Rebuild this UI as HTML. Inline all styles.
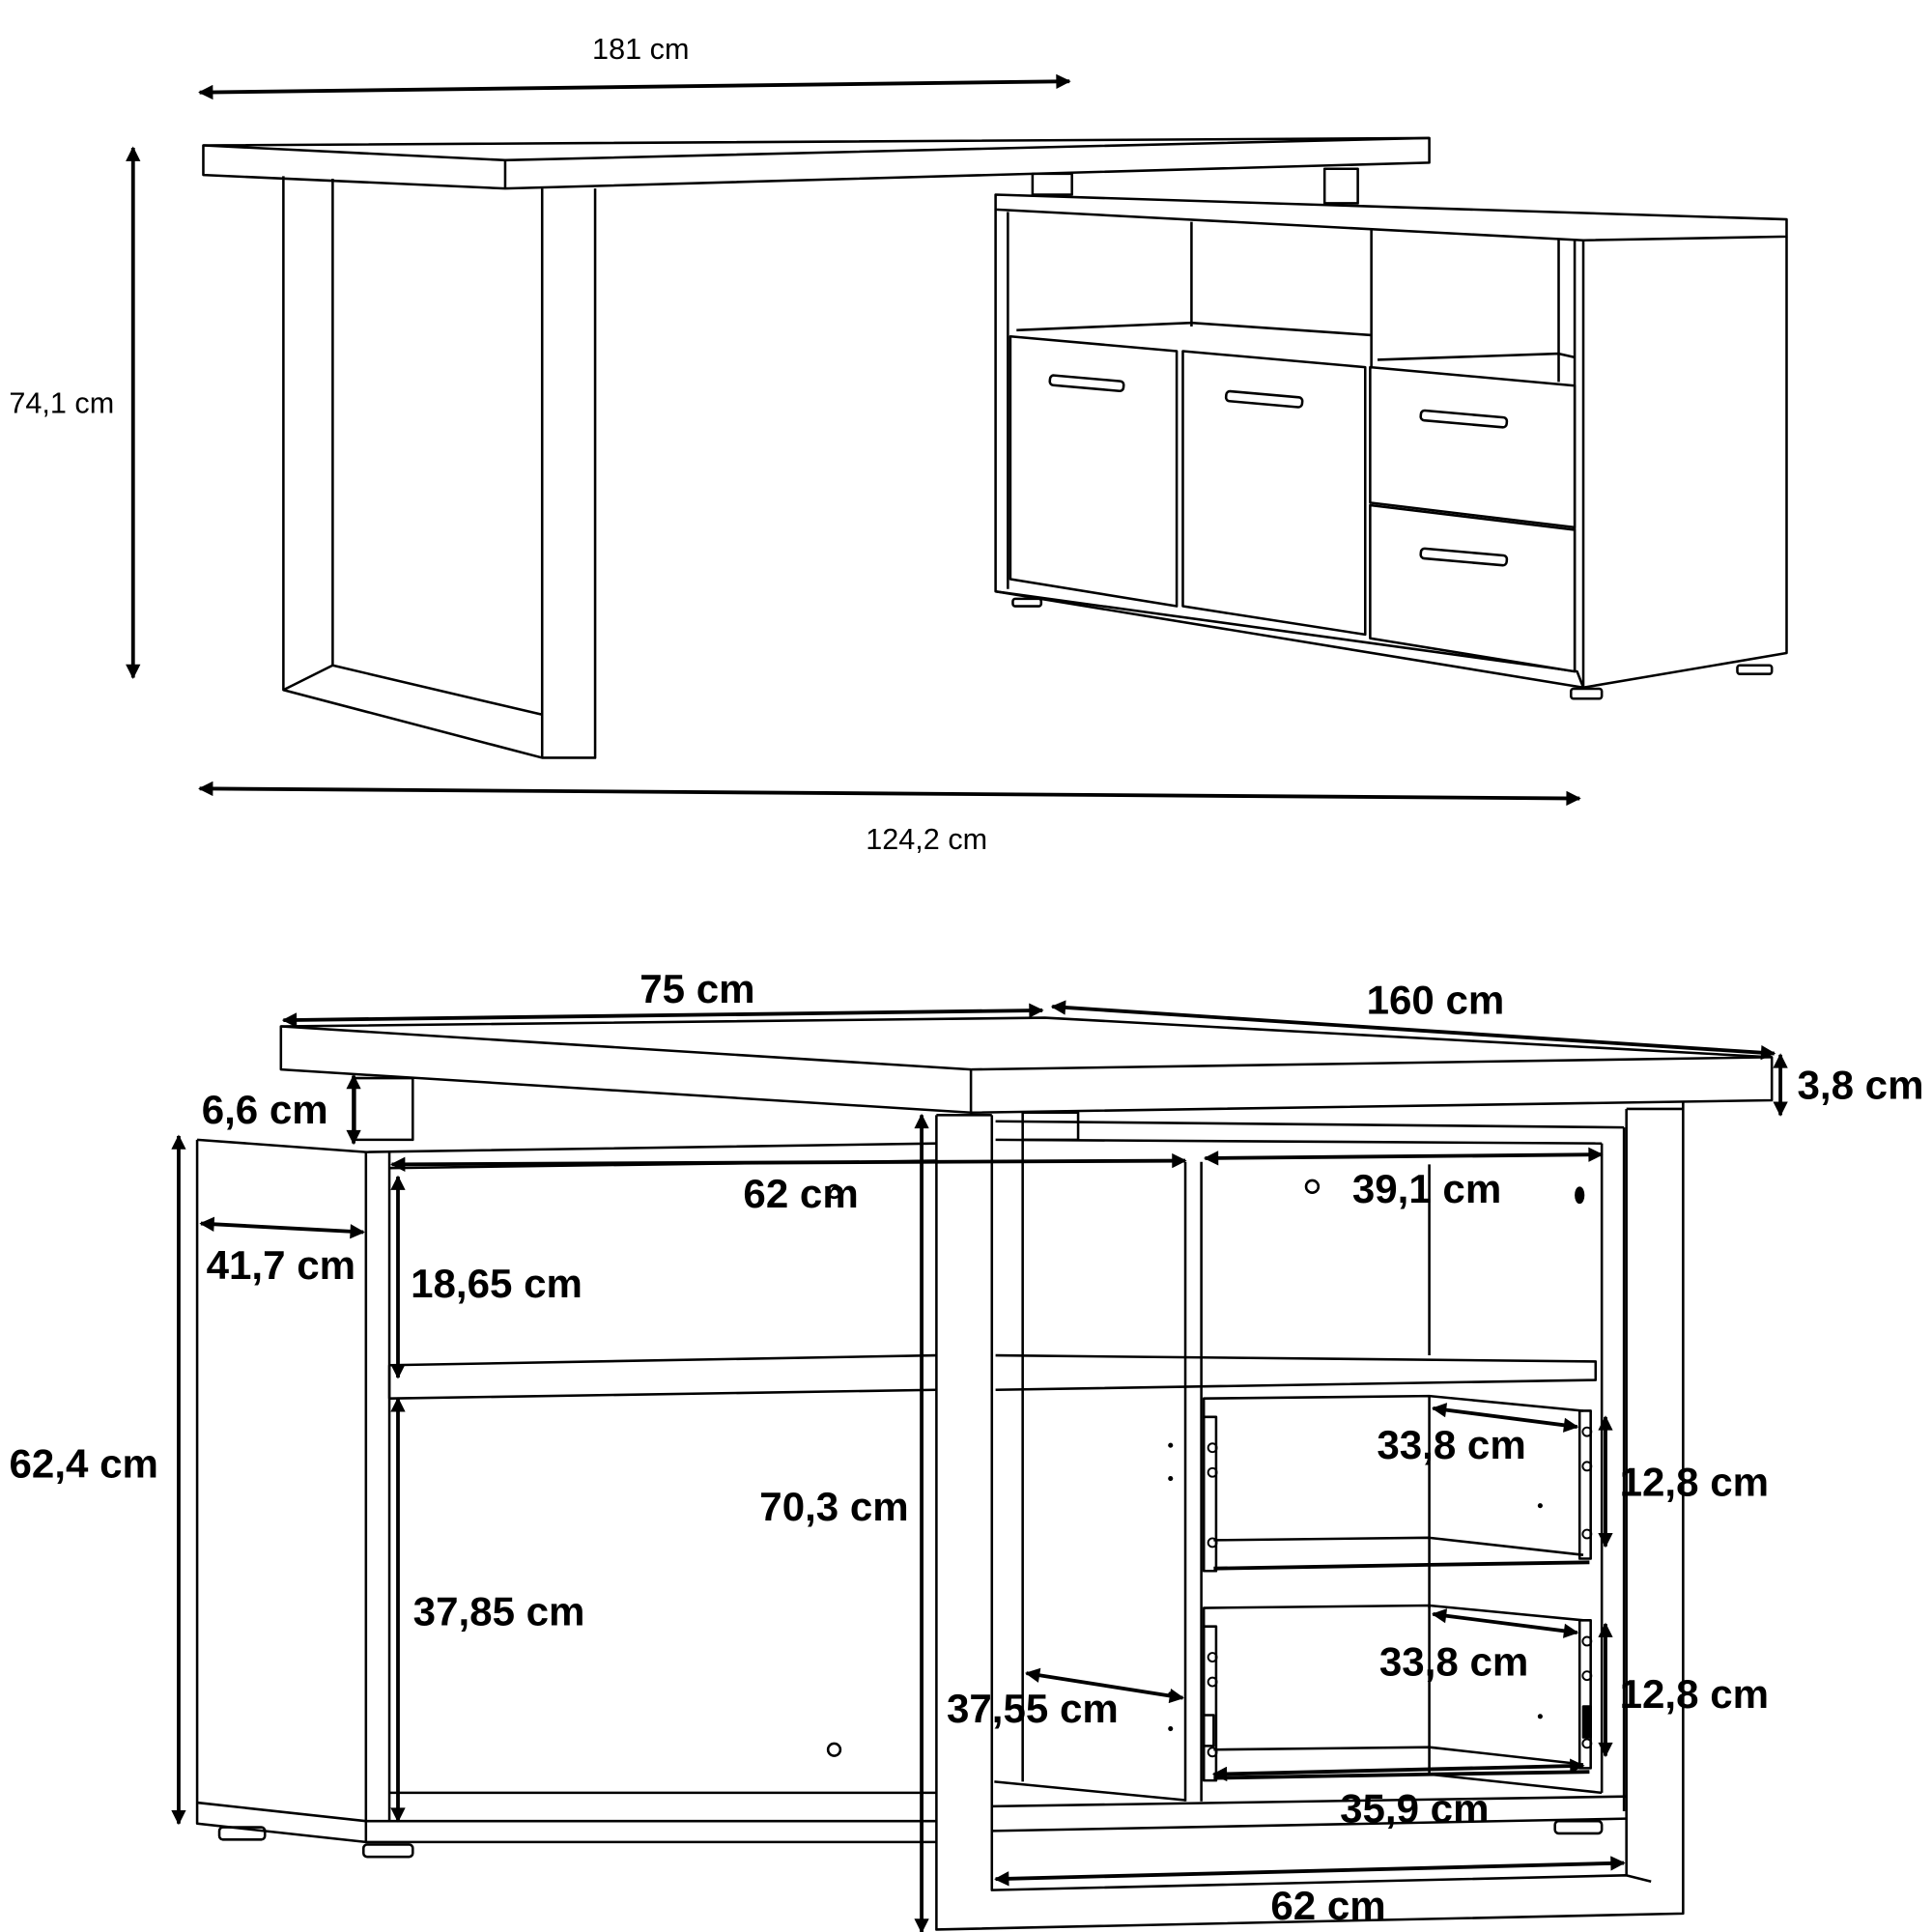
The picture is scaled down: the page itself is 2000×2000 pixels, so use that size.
<!DOCTYPE html>
<html><head><meta charset="utf-8"><style>
html,body{margin:0;padding:0;background:#fff;}
svg{display:block;}
text{font-family:"Liberation Sans",sans-serif;fill:#000;}
.b{font-weight:bold;font-size:33px;}
.t{font-size:24px;}
</style></head><body>
<svg width="2000" height="2000" viewBox="0 0 1568 1568" xmlns="http://www.w3.org/2000/svg">
<defs>
<marker id="m" viewBox="0 0 10 10" refX="9" refY="5" markerWidth="22" markerHeight="12" orient="auto-start-reverse" markerUnits="userSpaceOnUse">
<path d="M0,0 L10,5 L0,10 z"/></marker>
</defs>
<g fill="none" stroke="#000" stroke-width="2" stroke-linejoin="round">
<!-- TOP VIEW -->
<line x1="162" y1="75" x2="868" y2="66" stroke-width="3" marker-start="url(#m)" marker-end="url(#m)"/>
<line x1="108" y1="120" x2="108" y2="550" stroke-width="3" marker-start="url(#m)" marker-end="url(#m)"/>
<line x1="162" y1="640" x2="1282" y2="648" stroke-width="3" marker-start="url(#m)" marker-end="url(#m)"/>
<polygon points="165,118 1160,112 1160,132 410,153 165,142" fill="#fff"/>
<polyline points="165,118 410,130 1160,112"/>
<line x1="410" y1="130" x2="410" y2="153"/>
<polyline points="230,143 230,560 440,615 483,615 483,153"/>
<polyline points="270,145 270,540 440,580"/>
<line x1="440" y1="153" x2="440" y2="615"/>
<line x1="230" y1="560" x2="270" y2="540"/>
<rect x="838" y="141" width="32" height="17"/>
<rect x="1075" y="137" width="27" height="28"/>
<polygon points="808,158 1450,178 1450,192 1285,195 808,170" fill="#fff"/>
<polyline points="808,170 808,480 1280,545 1285,558 1450,530 1450,192"/>
<line x1="1285" y1="195" x2="1285" y2="558"/>
<line x1="818" y1="172" x2="818" y2="478"/>
<line x1="967" y1="180" x2="967" y2="265"/>
<line x1="1113" y1="186" x2="1113" y2="298"/>
<line x1="1265" y1="194" x2="1265" y2="310"/>
<line x1="1278" y1="195" x2="1278" y2="545"/>
<polyline points="825,268 967,262 1113,272"/>
<polyline points="1118,292 1265,287 1278,290"/>
<line x1="808" y1="480" x2="1285" y2="558"/>
<polygon points="820,273 955,285 955,492 820,470" fill="#fff"/>
<polygon points="960,285 1108,298 1108,515 960,492" fill="#fff"/>
<polygon points="1112,298 1278,313 1278,428 1112,408" fill="#fff"/>
<polygon points="1112,410 1278,430 1278,545 1112,518" fill="#fff"/>
<rect x="852" y="307" width="60" height="8" rx="3" transform="rotate(5 882 311)"/>
<rect x="995" y="320" width="62" height="8" rx="3" transform="rotate(5 1026 324)"/>
<rect x="1153" y="336" width="70" height="8" rx="3" transform="rotate(5 1188 340)"/>
<rect x="1153" y="448" width="70" height="8" rx="3" transform="rotate(5 1188 452)"/>
<rect x="822" y="486" width="23" height="6" rx="2"/>
<rect x="1275" y="559" width="25" height="8" rx="2"/>
<rect x="1410" y="540" width="28" height="7" rx="2"/>

<!-- BOTTOM VIEW -->
<polyline points="160,925 297,935 760,928"/>
<polyline points="160,925 160,1480 297,1495 297,935"/>
<line x1="316" y1="935" x2="316" y2="1478"/>
<polyline points="160,1463 297,1478 760,1478"/>
<line x1="316" y1="1455" x2="760" y2="1455"/>
<line x1="297" y1="1495" x2="760" y2="1495"/>
<polyline points="316,1108 760,1100"/>
<polyline points="316,1135 760,1128"/>
<line x1="316" y1="1108" x2="316" y2="1135"/>
<line x1="316" y1="948" x2="760" y2="942"/>
<rect x="178" y="1483" width="37" height="10" rx="3"/>
<rect x="295" y="1497" width="40" height="10" rx="3"/>
<rect x="288" y="875" width="47" height="50"/>
<rect x="830" y="903" width="45" height="22"/>
<polyline points="808,910 1318,915"/>
<polyline points="808,925 1300,928"/>
<line x1="830" y1="925" x2="830" y2="1446"/>
<line x1="962" y1="943" x2="962" y2="1462"/>
<line x1="975" y1="943" x2="975" y2="1462"/>
<line x1="1160" y1="945" x2="1160" y2="1100"/>
<line x1="1300" y1="928" x2="1300" y2="1455"/>
<line x1="1318" y1="915" x2="1318" y2="1470"/>
<polyline points="808,1100 1295,1105 1295,1120 808,1128"/>
<line x1="807" y1="1446" x2="962" y2="1461"/>
<line x1="1160" y1="1440" x2="1300" y2="1455"/>
<polyline points="805,1466 1320,1458"/>
<polyline points="805,1486 1320,1476"/>
<rect x="1262" y="1478" width="38" height="10" rx="3"/>
<!-- drawers -->
<g>
<polyline points="977,1275 977,1135 1160,1133 1285,1145"/>
<line x1="1160" y1="1133" x2="1160" y2="1305"/>
<polyline points="985,1250 1160,1248 1285,1262"/>
<polyline points="985,1273 1160,1270 1290,1268" stroke-width="3"/>
<rect x="977" y="1150" width="10" height="125"/>
<rect x="1282" y="1145" width="9" height="120"/>
<polyline points="977,1445 977,1305 1160,1303 1285,1315"/>
<line x1="1160" y1="1303" x2="1160" y2="1440"/>
<polyline points="985,1420 1160,1418 1285,1432"/>
<polyline points="985,1443 1160,1440 1290,1438" stroke-width="3"/>
<rect x="977" y="1320" width="10" height="125"/>
<rect x="1282" y="1315" width="9" height="120"/>
<rect x="1285" y="1385" width="6" height="25" fill="#000"/>
<rect x="977" y="1392" width="8" height="25"/>
</g>
<g stroke-width="1.5">
<circle cx="984" cy="1175" r="3.5"/><circle cx="984" cy="1195" r="3.5"/><circle cx="984" cy="1252" r="3.5"/>
<circle cx="1288" cy="1162" r="3.5"/><circle cx="1288" cy="1190" r="3.5"/><circle cx="1288" cy="1245" r="3.5"/>
<circle cx="984" cy="1345" r="3.5"/><circle cx="984" cy="1365" r="3.5"/><circle cx="984" cy="1422" r="3.5"/>
<circle cx="1288" cy="1332" r="3.5"/><circle cx="1288" cy="1360" r="3.5"/><circle cx="1288" cy="1415" r="3.5"/>
</g>
<!-- legs and desktop -->
<polyline points="760,905 760,1566 1366,1553 1366,893"/>
<polyline points="805,905 805,1534 1320,1522 1340,1527"/>
<line x1="1320" y1="900" x2="1320" y2="1522"/>
<polygon points="228,833 848,826 1438,858 1438,893 788,903 228,868" fill="#fff"/>
<line x1="228" y1="833" x2="788" y2="868"/>
<line x1="788" y1="868" x2="1438" y2="858"/>
<line x1="788" y1="868" x2="788" y2="903"/>
<line x1="760" y1="905" x2="805" y2="905"/>
<line x1="1320" y1="900" x2="1366" y2="900"/>
<g stroke-width="3">
<line x1="230" y1="828" x2="846" y2="820" marker-start="url(#m)" marker-end="url(#m)"/>
<line x1="854" y1="817" x2="1440" y2="855" marker-start="url(#m)" marker-end="url(#m)"/>
<line x1="1445" y1="856" x2="1445" y2="905" marker-start="url(#m)" marker-end="url(#m)"/>
<line x1="287" y1="873" x2="287" y2="928" marker-start="url(#m)" marker-end="url(#m)"/>
<line x1="145" y1="922" x2="145" y2="1480" marker-start="url(#m)" marker-end="url(#m)"/>
<line x1="163" y1="993" x2="295" y2="1000" marker-start="url(#m)" marker-end="url(#m)"/>
<line x1="323" y1="955" x2="323" y2="1118" marker-start="url(#m)" marker-end="url(#m)"/>
<line x1="323" y1="1135" x2="323" y2="1478" marker-start="url(#m)" marker-end="url(#m)"/>
<line x1="318" y1="945" x2="962" y2="942" marker-start="url(#m)" marker-end="url(#m)"/>
<line x1="748" y1="905" x2="748" y2="1568" marker-start="url(#m)" marker-end="url(#m)"/>
<line x1="978" y1="940" x2="1300" y2="937" marker-start="url(#m)" marker-end="url(#m)"/>
<line x1="1163" y1="1143" x2="1280" y2="1158" marker-start="url(#m)" marker-end="url(#m)"/>
<line x1="1163" y1="1310" x2="1280" y2="1325" marker-start="url(#m)" marker-end="url(#m)"/>
<line x1="1303" y1="1150" x2="1303" y2="1255" marker-start="url(#m)" marker-end="url(#m)"/>
<line x1="1303" y1="1318" x2="1303" y2="1425" marker-start="url(#m)" marker-end="url(#m)"/>
<line x1="833" y1="1358" x2="960" y2="1378" marker-start="url(#m)" marker-end="url(#m)"/>
<line x1="985" y1="1440" x2="1285" y2="1433" marker-start="url(#m)" marker-end="url(#m)"/>
<line x1="808" y1="1525" x2="1318" y2="1512" marker-start="url(#m)" marker-end="url(#m)"/>
</g>
<circle cx="677" cy="967" r="5"/><circle cx="1065" cy="963" r="5"/><circle cx="677" cy="1420" r="5"/>
<ellipse cx="1282" cy="970" rx="3" ry="6" fill="#000"/>
</g>
<g fill="#000">
<circle cx="950" cy="1173" r="2"/><circle cx="950" cy="1200" r="2"/><circle cx="1250" cy="1222" r="2"/>
<circle cx="950" cy="1375" r="2"/><circle cx="950" cy="1403" r="2"/><circle cx="1250" cy="1393" r="2"/>
</g>
<text class="t" x="520" y="48" text-anchor="middle">181 cm</text>
<text class="t" x="50" y="335" text-anchor="middle">74,1 cm</text>
<text class="t" x="752" y="689" text-anchor="middle">124,2 cm</text>
<text class="b" x="566" y="814" text-anchor="middle">75 cm</text>
<text class="b" x="1165" y="823" text-anchor="middle">160 cm</text>
<text class="b" x="1510" y="892" text-anchor="middle">3,8 cm</text>
<text class="b" x="215" y="912" text-anchor="middle">6,6 cm</text>
<text class="b" x="650" y="980" text-anchor="middle">62 cm</text>
<text class="b" x="1158" y="976" text-anchor="middle">39,1 cm</text>
<text class="b" x="228" y="1038" text-anchor="middle">41,7 cm</text>
<text class="b" x="403" y="1053" text-anchor="middle">18,65 cm</text>
<text class="b" x="68" y="1199" text-anchor="middle">62,4 cm</text>
<text class="b" x="677" y="1234" text-anchor="middle">70,3 cm</text>
<text class="b" x="1178" y="1184" text-anchor="middle">33,8 cm</text>
<text class="b" x="1375" y="1214" text-anchor="middle">12,8 cm</text>
<text class="b" x="405" y="1319" text-anchor="middle">37,85 cm</text>
<text class="b" x="1180" y="1360" text-anchor="middle">33,8 cm</text>
<text class="b" x="1375" y="1386" text-anchor="middle">12,8 cm</text>
<text class="b" x="838" y="1398" text-anchor="middle">37,55 cm</text>
<text class="b" x="1148" y="1479" text-anchor="middle">35,9 cm</text>
<text class="b" x="1078" y="1558" text-anchor="middle">62 cm</text>
</svg>
</body></html>
